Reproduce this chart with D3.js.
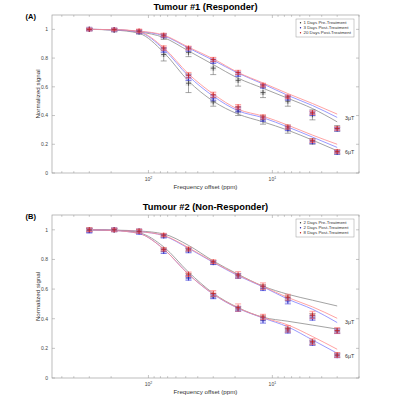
<!DOCTYPE html>
<html>
<head>
<meta charset="utf-8">
<script src="https://cdn.jsdelivr.net/npm/d3@7"></script>
<style>
  body { margin: 0; background: #fff; }
  svg { font-family: "Liberation Sans", Arial, sans-serif; }
</style>
</head>
<body>
<div id="chart"></div>
<script>
// offsets (ppm) of the saturation points
const offsets = [300, 189, 119, 75.3, 47.5, 30, 18.9, 11.9, 7.5, 4.75, 3.0];
const xMajorTicks = [100, 10];
const xMinorTicks = [500, 400, 300, 200, 90, 80, 70, 60, 50, 40, 30, 20, 9, 8, 7, 6, 5, 4, 3, 2];
const yTicks = [0, 0.2, 0.4, 0.6, 0.8, 1];

// Panel A - Tumour #1 (Responder)
const namesA = ["1 Days Pre-Treatment", "3 Days Post-Treatment", "20 Days Post-Treatment"];
const a3Pre = [1.0, 0.995, 0.985, 0.95, 0.84, 0.73, 0.645, 0.56, 0.50, 0.405, 0.31];
const a3PreErr = [0.006, 0.008, 0.01, 0.02, 0.03, 0.045, 0.04, 0.035, 0.035, 0.035, 0.02];
const a3Post = [1.0, 0.997, 0.985, 0.955, 0.863, 0.778, 0.688, 0.604, 0.523, 0.415, 0.305];
const a3PostErr = [0.006, 0.006, 0.01, 0.012, 0.015, 0.015, 0.015, 0.012, 0.015, 0.015, 0.012];
const a3Late = [1.0, 0.998, 0.988, 0.96, 0.87, 0.79, 0.70, 0.612, 0.53, 0.42, 0.31];
const a3LateErr = [0.005, 0.006, 0.01, 0.012, 0.012, 0.015, 0.015, 0.012, 0.012, 0.012, 0.012];
const a6Pre = [1.0, 0.995, 0.98, 0.825, 0.625, 0.495, 0.43, 0.37, 0.305, 0.22, 0.145];
const a6PreErr = [0.006, 0.008, 0.012, 0.045, 0.065, 0.03, 0.03, 0.03, 0.028, 0.02, 0.015];
const a6Post = [1.0, 0.997, 0.983, 0.856, 0.664, 0.523, 0.442, 0.375, 0.31, 0.217, 0.144];
const a6PostErr = [0.008, 0.008, 0.012, 0.015, 0.02, 0.02, 0.018, 0.015, 0.015, 0.012, 0.012];
const a6Late = [1.0, 0.998, 0.988, 0.87, 0.68, 0.545, 0.46, 0.39, 0.32, 0.225, 0.15];
const a6LateErr = [0.006, 0.006, 0.012, 0.015, 0.02, 0.018, 0.016, 0.015, 0.014, 0.012, 0.012];
// fitted curves, panel A
const fitA3Pre = [1.0, 0.996, 0.982, 0.943, 0.85, 0.755, 0.66, 0.59, 0.52, 0.449, 0.356];
const fitA3Post = [1.0, 0.997, 0.986, 0.955, 0.87, 0.785, 0.695, 0.62, 0.54, 0.47, 0.387];
const fitA3Late = [1.0, 0.998, 0.988, 0.96, 0.876, 0.795, 0.70, 0.627, 0.553, 0.484, 0.41];
const fitA6Pre = [1.0, 0.995, 0.972, 0.84, 0.64, 0.50, 0.41, 0.356, 0.298, 0.229, 0.155];
const fitA6Post = [1.0, 0.997, 0.98, 0.862, 0.675, 0.535, 0.433, 0.385, 0.32, 0.25, 0.178];
const fitA6Late = [1.0, 0.998, 0.983, 0.872, 0.69, 0.55, 0.444, 0.396, 0.333, 0.264, 0.20];

// Panel B - Tumour #2 (Non-Responder)
const namesB = ["2 Days Pre-Treatment", "2 Days Post-Treatment", "8 Days Post-Treatment"];
const b3Pre = [1.0, 1.0, 0.99, 0.96, 0.865, 0.78, 0.69, 0.615, 0.54, 0.42, 0.32];
const b3PreErr = [0.01, 0.008, 0.01, 0.01, 0.012, 0.012, 0.015, 0.015, 0.015, 0.015, 0.015];
const b3Post = [0.995, 1.0, 0.99, 0.958, 0.86, 0.778, 0.688, 0.605, 0.52, 0.405, 0.315];
const b3PostErr = [0.015, 0.01, 0.015, 0.012, 0.015, 0.012, 0.015, 0.015, 0.02, 0.015, 0.015];
const b3Late = [1.0, 1.0, 0.992, 0.965, 0.87, 0.785, 0.696, 0.62, 0.545, 0.425, 0.32];
const b3LateErr = [0.012, 0.01, 0.012, 0.01, 0.012, 0.012, 0.022, 0.022, 0.02, 0.025, 0.02];
const b6Pre = [1.0, 1.0, 0.99, 0.865, 0.69, 0.556, 0.468, 0.405, 0.325, 0.24, 0.155];
const b6PreErr = [0.01, 0.008, 0.01, 0.012, 0.015, 0.015, 0.015, 0.015, 0.015, 0.015, 0.012];
const b6Post = [0.995, 1.0, 0.985, 0.855, 0.675, 0.55, 0.465, 0.39, 0.318, 0.235, 0.15];
const b6PostErr = [0.015, 0.01, 0.015, 0.015, 0.015, 0.015, 0.015, 0.02, 0.015, 0.015, 0.012];
const b6Late = [1.0, 1.0, 0.99, 0.868, 0.70, 0.57, 0.475, 0.412, 0.332, 0.245, 0.155];
const b6LateErr = [0.012, 0.01, 0.012, 0.01, 0.015, 0.02, 0.025, 0.018, 0.022, 0.02, 0.017];
// fitted curves, panel B
const fitB3Pre = [1.0, 0.998, 0.992, 0.972, 0.895, 0.79, 0.70, 0.62, 0.565, 0.525, 0.486];
const fitB3Post = [1.0, 0.997, 0.988, 0.96, 0.875, 0.78, 0.69, 0.615, 0.532, 0.464, 0.374];
const fitB3Late = [1.0, 0.997, 0.988, 0.962, 0.88, 0.783, 0.695, 0.618, 0.543, 0.48, 0.403];
const fitB6Pre = [1.0, 0.997, 0.98, 0.885, 0.715, 0.572, 0.475, 0.41, 0.383, 0.357, 0.33];
const fitB6Post = [1.0, 0.995, 0.975, 0.87, 0.70, 0.565, 0.47, 0.405, 0.345, 0.257, 0.167];
const fitB6Late = [1.0, 0.995, 0.975, 0.87, 0.70, 0.567, 0.472, 0.408, 0.358, 0.28, 0.194];

const seriesColors = [
    {err: "#6a6a6a", mark: "#333", fit: "#8c8c8c", box: "#bbbbbb"},
    {err: "#3a3ad8", mark: "#2020b0", fit: "#8080ff", box: "#8c8cff"},
    {err: "#ff6a6a", mark: "#c01818", fit: "#ff8c8c", box: "#ff9a9a"}
];

const width = 397, height = 400;
const svg = d3.select("#chart").append("svg")
    .attr("width", width)
    .attr("height", height);

function drawPanel(cfg) {
    const x = d3.scaleLog().domain([600, 2]).range([52, 359]);
    const y = d3.scaleLinear().domain([0, 1.1]).range([cfg.bottom, cfg.top]);
    const g = svg.append("g");

    // box
    g.append("rect")
        .attr("x", 52).attr("y", cfg.top)
        .attr("width", 307).attr("height", cfg.bottom - cfg.top)
        .attr("fill", "none").attr("stroke", "#a0a0a0").attr("stroke-width", 0.7);

    // ticks, inward on all sides
    yTicks.forEach(function (t) {
        g.append("line").attr("x1", 52).attr("x2", 55).attr("y1", y(t)).attr("y2", y(t))
            .attr("stroke", "#a0a0a0").attr("stroke-width", 0.6);
        g.append("line").attr("x1", 356).attr("x2", 359).attr("y1", y(t)).attr("y2", y(t))
            .attr("stroke", "#a0a0a0").attr("stroke-width", 0.6);
        g.append("text").attr("x", 48).attr("y", y(t) + 1.8)
            .attr("text-anchor", "end").attr("font-size", 5).attr("fill", "#444")
            .text(t === 0 || t === 1 ? d3.format("d")(t) : d3.format(".1f")(t));
    });
    xMajorTicks.concat(xMinorTicks).forEach(function (t) {
        const len = xMajorTicks.includes(t) ? 3 : 1.8;
        g.append("line").attr("x1", x(t)).attr("x2", x(t)).attr("y1", cfg.bottom).attr("y2", cfg.bottom - len)
            .attr("stroke", "#a0a0a0").attr("stroke-width", 0.6);
        g.append("line").attr("x1", x(t)).attr("x2", x(t)).attr("y1", cfg.top).attr("y2", cfg.top + len)
            .attr("stroke", "#a0a0a0").attr("stroke-width", 0.6);
    });
    xMajorTicks.forEach(function (t) {
        const lbl = g.append("text").attr("x", x(t)).attr("y", cfg.bottom + 8)
            .attr("text-anchor", "middle").attr("font-size", 5).attr("fill", "#444");
        lbl.append("tspan").text("10");
        lbl.append("tspan").attr("dy", -2).attr("font-size", 3.5).text(Math.round(Math.log10(t)));
    });

    // labels and titles
    g.append("text").attr("x", 205.5).attr("y", cfg.bottom + 15.5)
        .attr("text-anchor", "middle").attr("font-size", 6.2).attr("fill", "#333")
        .text("Frequency offset (ppm)");
    g.append("text")
        .attr("transform", "translate(39.5," + ((cfg.top + cfg.bottom) / 2) + ") rotate(-90)")
        .attr("text-anchor", "middle").attr("font-size", 6.2).attr("fill", "#333")
        .text("Normalized signal");
    g.append("text").attr("x", 205.5).attr("y", cfg.top - 5)
        .attr("text-anchor", "middle").attr("font-size", 9.3).attr("font-weight", "bold")
        .text(cfg.title);
    g.append("text").attr("x", 25.5).attr("y", cfg.top + 4)
        .attr("font-size", 7.5).attr("font-weight", "bold")
        .text(cfg.tag);

    // fitted curves
    const line = d3.line()
        .x(function (d, i) { return x(offsets[i]); })
        .y(function (d) { return y(d); })
        .curve(d3.curveMonotoneX);
    cfg.fits.forEach(function (f, k) {
        g.append("path").attr("d", line(f))
            .attr("fill", "none").attr("stroke", seriesColors[k % 3].fit).attr("stroke-width", 0.8);
    });

    // data with error bars
    cfg.data.forEach(function (s, k) {
        const c = seriesColors[k % 3];
        const pts = s.vals.map(function (v, i) { return {x: x(offsets[i]), v: v, e: s.err[i]}; });
        const sg = g.append("g");
        sg.selectAll("rect").data(pts).join("rect")
            .attr("x", function (d) { return d.x - 3; })
            .attr("y", function (d) { return y(d.v) - 2.5; })
            .attr("width", 6).attr("height", 5)
            .attr("fill", c.box).attr("opacity", 0.35);
        sg.selectAll("line.eb").data(pts).join("line").attr("class", "eb")
            .attr("x1", function (d) { return d.x; }).attr("x2", function (d) { return d.x; })
            .attr("y1", function (d) { return y(d.v - d.e); }).attr("y2", function (d) { return y(d.v + d.e); })
            .attr("stroke", c.err).attr("stroke-width", 0.6);
        ["lo", "hi"].forEach(function (side) {
            sg.selectAll("line.cap" + side).data(pts).join("line").attr("class", "cap" + side)
                .attr("x1", function (d) { return d.x - 3; }).attr("x2", function (d) { return d.x + 3; })
                .attr("y1", function (d) { return y(side === "lo" ? d.v - d.e : d.v + d.e); })
                .attr("y2", function (d) { return y(side === "lo" ? d.v - d.e : d.v + d.e); })
                .attr("stroke", c.err).attr("stroke-width", 0.6);
        });
        sg.selectAll("path.plus").data(pts).join("path").attr("class", "plus")
            .attr("d", function (d) {
                const yy = y(d.v);
                return "M" + (d.x - 2.5) + "," + yy + "H" + (d.x + 2.5) + "M" + d.x + "," + (yy - 2.5) + "V" + (yy + 2.5);
            })
            .attr("stroke", c.mark).attr("stroke-width", 0.7).attr("fill", "none");
    });

    // field-strength labels
    g.append("text").attr("x", 345).attr("y", cfg.lab3).attr("font-size", 5.3).attr("fill", "#333").text("3\u03bcT");
    g.append("text").attr("x", 345).attr("y", cfg.lab6).attr("font-size", 5.3).attr("fill", "#333").text("6\u03bcT");

    // legend
    const lg = g.append("g");
    lg.append("rect").attr("x", 296).attr("y", cfg.top + 4).attr("width", 58).attr("height", 18)
        .attr("fill", "#fff").attr("stroke", "#9a9a9a").attr("stroke-width", 0.5);
    cfg.names.forEach(function (n, k) {
        const yy = cfg.top + 9 + k * 5;
        lg.append("circle").attr("cx", 300.5).attr("cy", yy - 1.3).attr("r", 0.7)
            .attr("fill", seriesColors[k].mark);
        lg.append("text").attr("x", 303.5).attr("y", yy).attr("font-size", 4.4).attr("fill", "#333").text(n);
    });
}

drawPanel({
    top: 15, bottom: 173, title: "Tumour #1 (Responder)", tag: "(A)", names: namesA,
    lab3: 120, lab6: 154,
    fits: [fitA3Pre, fitA3Post, fitA3Late, fitA6Pre, fitA6Post, fitA6Late],
    data: [
        {vals: a3Pre, err: a3PreErr}, {vals: a3Post, err: a3PostErr}, {vals: a3Late, err: a3LateErr},
        {vals: a6Pre, err: a6PreErr}, {vals: a6Post, err: a6PostErr}, {vals: a6Late, err: a6LateErr}
    ]
});
drawPanel({
    top: 215, bottom: 378, title: "Tumour #2 (Non-Responder)", tag: "(B)", names: namesB,
    lab3: 324, lab6: 358,
    fits: [fitB3Pre, fitB3Post, fitB3Late, fitB6Pre, fitB6Post, fitB6Late],
    data: [
        {vals: b3Pre, err: b3PreErr}, {vals: b3Post, err: b3PostErr}, {vals: b3Late, err: b3LateErr},
        {vals: b6Pre, err: b6PreErr}, {vals: b6Post, err: b6PostErr}, {vals: b6Late, err: b6LateErr}
    ]
});
</script>
</body>
</html>
